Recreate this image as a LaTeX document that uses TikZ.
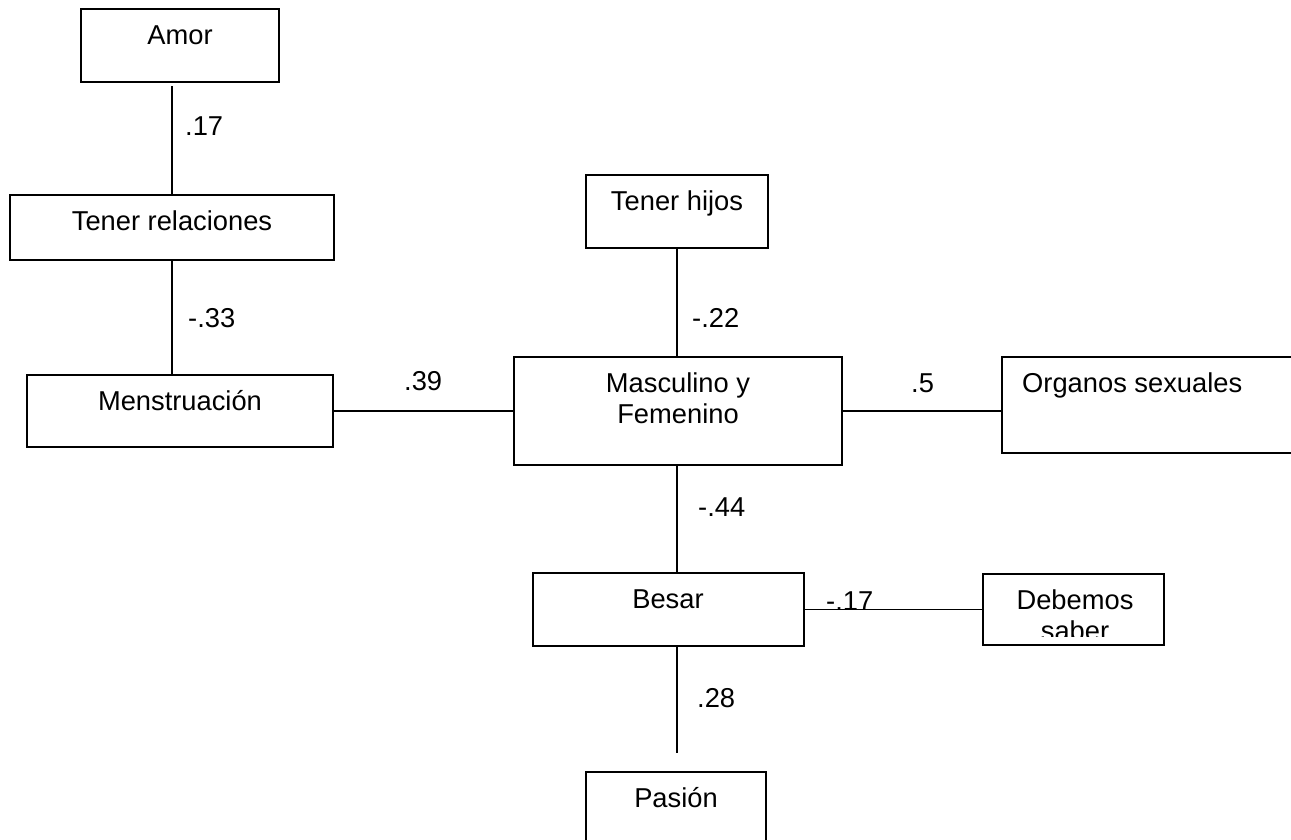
\documentclass[tikz,border=0pt]{standalone}
\usepackage{fontspec}
\setmainfont{Liberation Sans}
\begin{document}
\begin{tikzpicture}[x=1pt,y=-1pt,
  box/.style={draw, line width=1.8pt, inner sep=0pt, outer sep=0pt, anchor=north west},
  txt/.style={inner sep=0pt, anchor=base, font=\fontsize{27.3}{31}\selectfont},
  lab/.style={inner sep=0pt, anchor=base west, font=\fontsize{27.3}{31}\selectfont},
  conn/.style={line width=1.8pt}]
\useasboundingbox (0,0) rectangle (1291,840);
\clip (0,0) rectangle (1291,840);
% boxes
\node[box, minimum width=198pt, minimum height=73pt] (amor) at (81,9) {};
\node[box, minimum width=324pt, minimum height=65pt] (tr) at (10,195) {};
\node[box, minimum width=306pt, minimum height=72pt] (men) at (27,375) {};
\node[box, minimum width=182pt, minimum height=73pt] (th) at (586,175) {};
\node[box, minimum width=328pt, minimum height=108pt] (mf) at (514,357) {};
\node[box, minimum width=320pt, minimum height=96pt] (org) at (1002,357) {};
\node[box, minimum width=271pt, minimum height=73pt] (bes) at (533,573) {};
\node[box, minimum width=181pt, minimum height=71pt] (deb) at (983,574) {};
\node[box, minimum width=180pt, minimum height=100pt] (pas) at (586,772) {};
% texts
\node[txt] (tamor) at (180,45) {Amor};
\node[txt] (ttr) at (172,230) {Tener relaciones};
\node[txt] (tmen) at (180,410) {Menstruación};
\node[txt] (tth) at (677,210) {Tener hijos};
\node[txt] (tmf1) at (678,392) {Masculino y};
\node[txt] (tmf2) at (678,423) {Femenino};
\node[lab] (torg) at (1022,392) {Organos sexuales};
\node[txt] (tbes) at (668,608) {Besar};
\node[txt] (tdeb) at (1075,609) {Debemos};
\begin{scope}
  \clip (983,574) rectangle (1164,636);
  \node[txt] (tsab) at (1075,640) {saber};
\end{scope}
\node[txt] (tpas) at (676,807) {Pasión};
% connectors
\draw[conn, shorten >=4pt] (tr.north) -- (tr.north |- amor.south);
\draw[conn] (tr.south) -- (tr.south |- men.north);
\draw[conn] (men.east) -- (mf.west);
\draw[conn] (th.south) -- (th.south |- mf.north);
\draw[conn] (mf.east) -- (mf.east -| org.west);
\draw[conn] (th.south |- mf.south) -- (th.south |- bes.north);
\draw[conn] (bes.east) -- (deb.west);
\draw[conn, shorten >=19pt] (th.south |- bes.south) -- (th.south |- pas.north);
% labels
\node[lab] (l1) at (185,136) {.17};
\node[lab] (l2) at (188,327) {-.33};
\node[lab] (l3) at (404,390) {.39};
\node[lab] (l4) at (692,327) {-.22};
\node[lab] (l5) at (911,392) {.5};
\node[lab] (l6) at (698,516) {-.44};
\node[lab] (l7) at (826,610) {-.17};
\node[lab] (l8) at (697,707) {.28};
\end{tikzpicture}
\end{document}
